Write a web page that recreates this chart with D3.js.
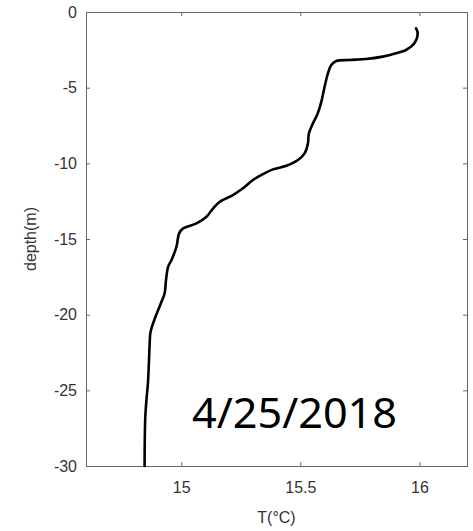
<!DOCTYPE html>
<html>
<head>
<meta charset="utf-8">
<script src="https://cdn.jsdelivr.net/npm/d3@7"></script>
<style>
  html, body { margin: 0; padding: 0; background: #fff; }
  svg { display: block; }
</style>
</head>
<body>
<svg id="chart" width="473" height="531"></svg>
<script>
// Temperature profile, 4/25/2018
const depth = [
  -1.08, -1.41, -2.07, -2.51, -2.73, -2.95, -3.11, -3.17, -3.24, -3.50,
  -4.05, -4.94, -5.82, -6.48, -6.92, -7.36, -8.02, -8.68, -9.34, -9.78,
  -10.16, -10.40, -10.71, -11.10, -11.65, -12.10, -12.54, -12.97, -13.53, -13.97,
  -14.30, -14.63, -15.51, -16.39, -16.83, -17.71, -18.60, -19.15, -20.25, -20.90,
  -21.24, -21.68, -23.22, -24.54, -25.42, -26.75, -30.0
];
const temperature = [
  15.986, 15.993, 15.979, 15.944, 15.902, 15.846, 15.776, 15.706, 15.651, 15.630,
  15.616, 15.602, 15.590, 15.578, 15.567, 15.553, 15.536, 15.532, 15.518, 15.490,
  15.441, 15.385, 15.343, 15.301, 15.259, 15.217, 15.162, 15.134, 15.106, 15.064,
  15.008, 14.991, 14.980, 14.959, 14.945, 14.936, 14.930, 14.917, 14.889, 14.875,
  14.870, 14.868, 14.864, 14.860, 14.855, 14.849, 14.846
];
const xTicks = [15, 15.5, 16];
const yTicks = [0, -5, -10, -15, -20, -25, -30];
const xDomain = [14.6, 16.2];
const yDomain = [-30, 0];
const dateLabel = "4/25/2018";
const xLabel = "T(°C)";
const yLabel = "depth(m)";

const margin = { left: 86, top: 12, right: 6, bottom: 65 };
const W = 473, H = 531;
const iw = W - margin.left - margin.right;
const ih = H - margin.top - margin.bottom;

const svg = d3.select("#chart");
const g = svg.append("g").attr("transform", `translate(${margin.left},${margin.top})`);

const x = d3.scaleLinear().domain(xDomain).range([0, iw]);
const y = d3.scaleLinear().domain(yDomain).range([ih, 0]);

const axisColor = "#666";
const labelColor = "#333";
const fontFam = "'Liberation Sans', Arial, sans-serif";

function styleAxis(sel, showLabels) {
  sel.select(".domain").remove();
  sel.selectAll(".tick line").attr("stroke", axisColor).attr("stroke-width", 1);
  sel.selectAll(".tick text")
    .attr("fill", labelColor)
    .style("font-family", fontFam)
    .style("font-size", "16px");
  if (!showLabels) sel.selectAll(".tick text").remove();
}

const fmt = d => String(d).replace("-", "-");

// Bottom & left with labels, top & right mirror ticks only (inward)
g.append("g").attr("transform", `translate(0,${ih})`)
  .call(d3.axisBottom(x).tickValues(xTicks).tickSize(-4).tickPadding(16).tickFormat(fmt))
  .call(s => styleAxis(s, true));
g.append("g")
  .call(d3.axisTop(x).tickValues(xTicks).tickSize(-4).tickFormat(""))
  .call(s => styleAxis(s, false));
g.append("g")
  .call(d3.axisLeft(y).tickValues(yTicks).tickSize(-4).tickPadding(9).tickFormat(fmt))
  .call(s => styleAxis(s, true));
g.append("g").attr("transform", `translate(${iw},0)`)
  .call(d3.axisRight(y).tickValues(yTicks).tickSize(-4).tickFormat(""))
  .call(s => styleAxis(s, false));

// Axes box
g.append("rect")
  .attr("x", 0.5).attr("y", 0.5)
  .attr("width", iw).attr("height", ih)
  .attr("fill", "none").attr("stroke", axisColor).attr("stroke-width", 1);

// Profile
const pts = depth.map((d, i) => [temperature[i], d]);
g.append("path")
  .datum(pts)
  .attr("fill", "none")
  .attr("stroke", "#000")
  .attr("stroke-width", 2.6)
  .attr("stroke-linejoin", "round")
  .attr("stroke-linecap", "round")
  .attr("d", d3.line().x(p => x(p[0])).y(p => y(p[1])).curve(d3.curveCatmullRom.alpha(0.5)));

// Axis titles
svg.append("text")
  .attr("x", margin.left + iw / 2).attr("y", 523)
  .attr("text-anchor", "middle")
  .attr("fill", labelColor)
  .style("font-family", fontFam).style("font-size", "16px")
  .text(xLabel);
svg.append("text")
  .attr("transform", `translate(36,${margin.top + ih / 2}) rotate(-90)`)
  .attr("text-anchor", "middle")
  .attr("fill", labelColor)
  .style("font-family", fontFam).style("font-size", "16px")
  .text(yLabel);

// Date annotation
svg.append("text")
  .attr("x", 192).attr("y", 428)
  .attr("fill", "#000")
  .attr("textLength", 205)
  .attr("lengthAdjust", "spacingAndGlyphs")
  .style("font-family", "'Noto Sans', 'Open Sans', sans-serif")
  .style("font-size", "42px")
  .text(dateLabel);
</script>
</body>
</html>
